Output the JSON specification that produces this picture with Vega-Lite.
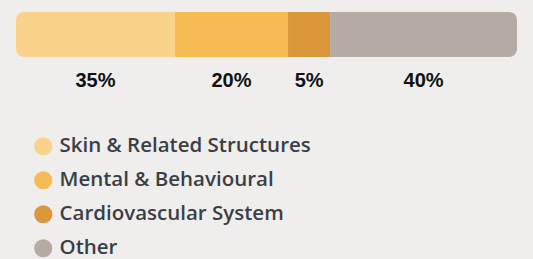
{
  "$schema": "https://vega.github.io/schema/vega-lite/v6.json",
  "width": 501,
  "height": 45,
  "autosize": {"type": "none"},
  "padding": {"left": 16, "top": 12, "right": 16, "bottom": 202},
  "background": "#efeeec",
  "data": {
    "values": [
      {"category": "Skin & Related Structures", "value": 31.7, "label": "35%", "order": 1},
      {"category": "Mental & Behavioural", "value": 22.6, "label": "20%", "order": 2},
      {"category": "Cardiovascular System", "value": 8.4, "label": "5%", "order": 3},
      {"category": "Other", "value": 37.3, "label": "40%", "order": 4}
    ]
  },
  "transform": [
    {"stack": "value", "groupby": [], "sort": [{"field": "order"}], "as": ["x0", "x1"]}
  ],
  "encoding": {
    "x": {"field": "x0", "type": "quantitative", "scale": {"domain": [0, 100], "nice": false, "zero": false}, "axis": null},
    "x2": {"field": "x1"},
    "color": {
      "field": "category",
      "type": "nominal",
      "scale": {
        "domain": ["Skin & Related Structures", "Mental & Behavioural", "Cardiovascular System", "Other"],
        "range": ["#f9d38c", "#f5bc56", "#da983b", "#b5aaa5"]
      },
      "legend": {
        "orient": "none",
        "legendX": 17,
        "legendY": 124,
        "title": null,
        "symbolType": "circle",
        "symbolSize": 330,
        "symbolStrokeWidth": 0,
        "symbolOpacity": 1,
        "labelFont": "Open Sans",
        "labelFontSize": 20.5,
        "labelFontWeight": 600,
        "labelColor": "#3b3e46",
        "labelOffset": 6,
        "rowPadding": 13,
        "labelLimit": 400
      }
    }
  },
  "layer": [
    {
      "transform": [{"filter": "datum.order == 1"}],
      "mark": {"type": "bar", "height": 45, "cornerRadiusTopLeft": 8, "cornerRadiusBottomLeft": 8, "opacity": 1}
    },
    {
      "transform": [{"filter": "datum.order == 2 || datum.order == 3"}],
      "mark": {"type": "bar", "height": 45, "opacity": 1}
    },
    {
      "transform": [{"filter": "datum.order == 4"}],
      "mark": {"type": "bar", "height": 45, "cornerRadiusTopRight": 8, "cornerRadiusBottomRight": 8, "opacity": 1}
    },
    {
      "transform": [{"calculate": "(datum.x0 + datum.x1) / 2", "as": "xm"}],
      "mark": {"type": "text", "dy": 46, "baseline": "middle", "align": "center", "font": "Liberation Sans", "fontSize": 20, "fontWeight": "bold", "color": "#111111"},
      "encoding": {
        "x": {"field": "xm", "type": "quantitative"},
        "x2": null,
        "color": null,
        "text": {"field": "label"}
      }
    }
  ],
  "config": {"view": {"stroke": null}}
}
